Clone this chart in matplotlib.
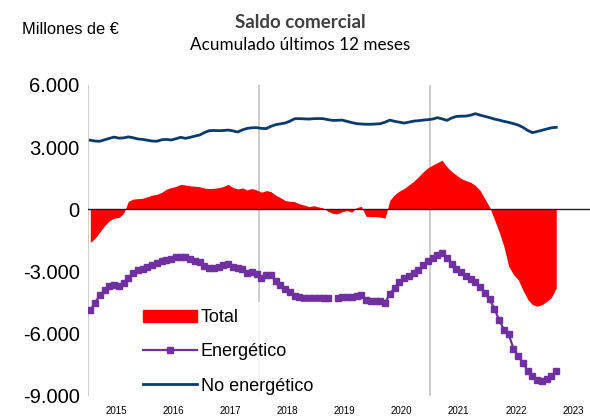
"""Saldo comercial acumulado 12 meses: total, energetico y no energetico."""

import matplotlib

matplotlib.use("Agg")
import matplotlib.pyplot as plt
import numpy as np
from matplotlib.lines import Line2D
from matplotlib.patches import Patch
from matplotlib.ticker import FuncFormatter

# Monthly data, Jan 2015 .. Mar 2023 (millones de euros)
START_YEAR = 2015
TOTAL = [
    -1600, -1400, -1100, -800, -560, -430, -400, -200, 380, 490, 510, 530,
    600, 680, 720, 816, 970, 1040, 1100, 1200, 1170, 1130, 1110, 1085,
    1020, 1000, 1010, 1040, 1100, 1200, 1050, 980, 1030, 930, 1000, 930,
    820, 900, 850, 680, 560, 420, 380, 365, 260, 200, 130, 170,
    110, 60, -100, -200, -220, -120, -60, -140, 80, 140, -340, -360,
    -355, -380, -430, 430, 700, 880, 1000, 1170, 1350, 1560, 1800, 2000,
    2130, 2250, 2366, 2045, 1820, 1650, 1480, 1380, 1300, 1150, 900, 500,
    100, -500, -1100, -1800, -2750, -3150, -3400, -3900, -4350, -4600, -4675, -4600,
    -4450, -4250, -3800,
]
ENERGETICO = [
    -4870, -4510, -4150, -3900, -3680, -3640, -3720, -3550, -3300, -3080, -2950, -2880,
    -2800, -2680, -2590, -2515, -2450, -2380, -2320, -2300, -2310, -2400, -2480, -2560,
    -2750, -2832, -2832, -2770, -2690, -2626, -2790, -2832, -2900, -3072, -3040, -3100,
    -3300, -3180, -3154, -3475, -3650, -3850, -4003, -4180, -4250, -4272, -4272, -4272,
    -4272, -4272, -4272, np.nan, -4270, -4250, -4240, -4224, -4180, -4114, -4400, -4435,
    -4435, -4435, -4500, -4100, -3780, -3500, -3300, -3200, -3072, -2950, -2700, -2475,
    -2330, -2200, -2112, -2352, -2650, -2900, -3050, -3200, -3350, -3500, -3750, -4032,
    -4350, -4800, -5350, -5800, -6034, -6720, -7100, -7392, -7800, -8035, -8250, -8275,
    -8200, -8050, -7795,
]
NO_ENERGETICO = [
    3330, 3290, 3280, 3350, 3420, 3480, 3430, 3440, 3490, 3450, 3390, 3370,
    3330, 3290, 3280, 3350, 3370, 3340, 3400, 3470, 3420, 3470, 3530, 3580,
    3700, 3790, 3800, 3790, 3800, 3820, 3780, 3725, 3830, 3900, 3930, 3936,
    3900, 3890, 4000, 4080, 4120, 4160, 4250, 4368, 4370, 4360, 4350, 4370,
    4375, 4368, 4320, 4286, 4290, 4300, 4240, 4180, 4130, 4110, 4100, 4100,
    4110, 4128, 4200, 4300, 4240, 4200, 4157, 4200, 4250, 4272, 4300, 4320,
    4350, 4416, 4360, 4286, 4400, 4478, 4490, 4493, 4540, 4608, 4540, 4478,
    4420, 4350, 4300, 4240, 4190, 4130, 4060, 3950, 3800, 3696, 3750, 3810,
    3870, 3930, 3950,
]
YEARS = list(range(2015, 2024))
Y_TICKS = [-9000, -6000, -3000, 0, 3000, 6000]
GRID_YEARS = [2015, 2018, 2021]

RED = "#FF0000"
PURPLE = "#7030A0"
NAVY = "#0B3B6E"


def thousands(v, _pos):
    return f"{v:,.0f}".replace(",", ".")


def main() -> None:
    plt.rcParams["font.family"] = ["Liberation Sans", "DejaVu Sans"]
    x = START_YEAR + (np.arange(len(TOTAL)) + 0.5) / 12.0

    fig = plt.figure(figsize=(5.9, 4.18), dpi=100)
    ax = fig.add_axes([0.149, 0.053, 0.851, 0.744])

    for yr in GRID_YEARS:
        ax.axvline(yr, color="#C8C8C8", linewidth=1.3, zorder=1)

    ax.fill_between(x, TOTAL, 0, color=RED, linewidth=0, zorder=2)
    ax.axhline(0, color="#202020", linewidth=1.0, zorder=3)
    ax.plot(x, NO_ENERGETICO, color=NAVY, linewidth=2.0, zorder=4)
    ax.plot(x, ENERGETICO, color=PURPLE, linewidth=1.6, marker="s",
            markersize=3.8, zorder=5)

    ax.set_xlim(START_YEAR, 2023.8)
    ax.set_ylim(-9000, 6000)
    ax.set_yticks(Y_TICKS)
    ax.yaxis.set_major_formatter(FuncFormatter(thousands))
    ax.set_xticks([y + 0.5 for y in YEARS])
    ax.set_xticklabels([str(y) for y in YEARS])
    ax.tick_params(axis="y", length=0, pad=6, labelsize=14.5)
    ax.tick_params(axis="x", length=0, pad=7.5, labelsize=7)
    for side in ax.spines.values():
        side.set_visible(False)

    handles = [
        Patch(facecolor=RED, edgecolor=RED),
        Line2D([], [], color=PURPLE, linewidth=1.6, marker="s", markersize=3.8),
        Line2D([], [], color=NAVY, linewidth=2.0),
    ]
    leg = fig.legend(
        handles, ["Total", "Energético", "No energético"],
        loc="upper left", bbox_to_anchor=(136 / 590, 1 - 302 / 418),
        frameon=True, fontsize=13, handlelength=3.0, handletextpad=0.2,
        labelspacing=0.95, borderaxespad=0, borderpad=0.4, fancybox=False,
    )
    leg.get_frame().set_facecolor("white")
    leg.get_frame().set_edgecolor("white")
    leg.set_zorder(10)

    fig.text(22 / 590, 1 - 30 / 418, "Millones de €", fontsize=11.8,
             ha="left", va="center")
    fig.text(300 / 590, 1 - 22 / 418, "Saldo comercial", fontsize=13.5,
             fontweight="bold", family=["Lato", "DejaVu Sans"],
             color="#404040", ha="center", va="center")
    fig.text(300 / 590, 1 - 45 / 418, "Acumulado últimos 12 meses",
             fontsize=12.3, family=["Lato", "DejaVu Sans"],
             ha="center", va="center")

    fig.savefig("out.png", dpi=100)
    plt.close(fig)


if __name__ == "__main__":
    main()
